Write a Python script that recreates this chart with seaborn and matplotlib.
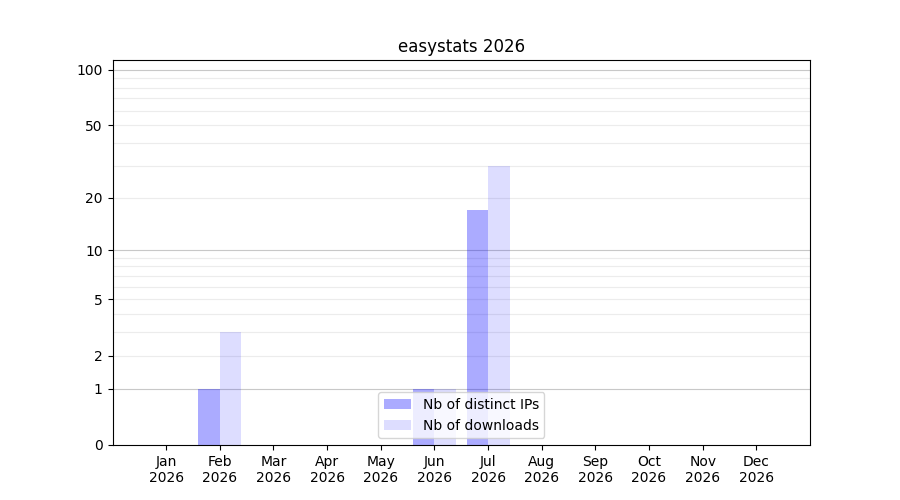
import numpy as np, pandas as pd
import matplotlib
matplotlib.use("Agg")
import matplotlib.pyplot as plt
import seaborn as sns

months = ["Jan", "Feb", "Mar", "Apr", "May", "Jun", "Jul", "Aug", "Sep", "Oct", "Nov", "Dec"]
year = "2026"
ips = [0, 1, 0, 0, 0, 1, 17, 0, 0, 0, 0, 0]
downloads = [0, 3, 0, 0, 0, 1, 30, 0, 0, 0, 0, 0]
y_ticks = [0, 1, 2, 5, 10, 20, 50, 100]
major_grid = [1, 10, 100]
minor_grid = [2, 3, 4, 5, 6, 7, 8, 9, 20, 30, 40, 50, 60, 70, 80, 90]

d = pd.DataFrame({"month": months * 2,
                  "n": ips + downloads,
                  "kind": ["Nb of distinct IPs"] * 12 + ["Nb of downloads"] * 12})

fig, ax = plt.subplots(figsize=(9, 5), dpi=100)
sns.barplot(data=d, x="month", y="n", hue="kind", order=months, width=0.8,
            palette=["blue", "blue"], saturation=1, ax=ax)
for cont, a in zip(ax.containers, [0.33, 0.135]):
    for p in cont:
        p.set_alpha(a)
        p.set_linewidth(0)

ax.set_yscale("function", functions=(lambda v: np.log10(np.clip(v, 0, None) + 1),
                                     lambda v: 10 ** v - 1))
ax.set_ylim(0, 113)
ax.set_xlim(-1, 12)
ax.set_yticks(y_ticks)
ax.set_yticklabels([str(t) for t in y_ticks])
ax.yaxis.set_minor_locator(matplotlib.ticker.NullLocator())
for v in minor_grid:
    ax.axhline(v, color="#ececec", lw=0.8, zorder=0)
for v in major_grid:
    ax.axhline(v, color="#c8c8c8", lw=0.8, zorder=0)

ax.set_xticks(range(12))
ax.set_xticklabels([f"{m}\n{year}" for m in months])
ax.set_xlabel("")
ax.set_ylabel("")
ax.set_title("easystats 2026")

leg = ax.legend(loc="lower center")
for h, a in zip(leg.legend_handles, [0.33, 0.135]):
    h.set_alpha(a)

fig.savefig("out.png")
